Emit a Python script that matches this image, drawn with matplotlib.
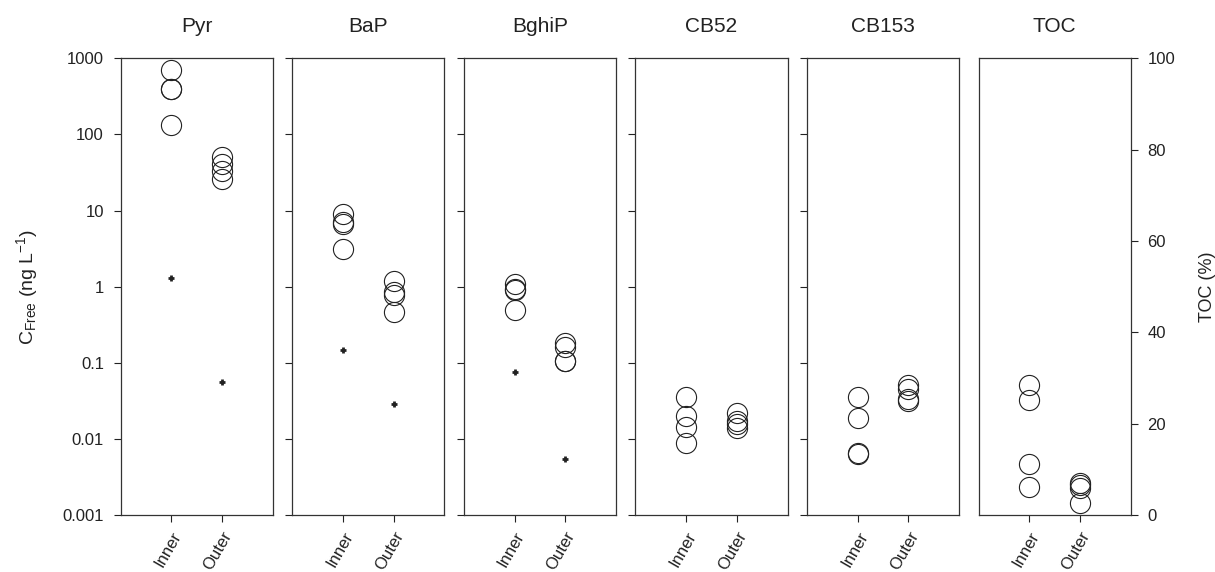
import numpy as np
import matplotlib
matplotlib.use("Agg")
import matplotlib.pyplot as plt
from matplotlib.ticker import NullLocator

plt.rcParams['font.family'] = ['Liberation Sans', 'DejaVu Sans']
plt.rcParams['mathtext.default'] = 'regular'

panels = ['Pyr', 'BaP', 'BghiP', 'CB52', 'CB153', 'TOC']
groups = ['Inner', 'Outer']

# circles: sediment / sampler values per group
inner = {
    'Pyr':   [700, 400, 390, 133],
    'BaP':   [9.0, 7.1, 6.6, 3.1],
    'BghiP': [1.1, 0.92, 0.90, 0.50],
    'CB52':  [0.035, 0.020, 0.0144, 0.0087],
    'CB153': [0.035, 0.0186, 0.0065, 0.0064],
    'TOC':   [28.5, 25.2, 11.2, 6.1],
}
outer = {
    'Pyr':   [50, 41, 33, 26],
    'BaP':   [1.2, 0.84, 0.78, 0.47],
    'BghiP': [0.18, 0.16, 0.107, 0.105],
    'CB52':  [0.0216, 0.0173, 0.0157, 0.0137],
    'CB153': [0.051, 0.045, 0.033, 0.0317],
    'TOC':   [7.0, 6.5, 6.0, 2.7],
}
# small crosses (inner, outer)
cross = {
    'Pyr':   [1.31, 0.056],
    'BaP':   [0.147, 0.029],
    'BghiP': [0.076, 0.0054],
}

log_ticks = [0.001, 0.01, 0.1, 1, 10, 100, 1000]
log_labels = ['0.001', '0.01', '0.1', '1', '10', '100', '1000']
toc_ticks = [0, 20, 40, 60, 80, 100]

ink = '#222222'
fig, axes = plt.subplots(1, 6, figsize=(12.15, 5.72), dpi=100)
fig.subplots_adjust(left=0.0993, right=0.9306, top=0.898, bottom=0.0997, wspace=0.128)

for i, (ax, name) in enumerate(zip(axes, panels)):
    for pos, vals in ((1, inner[name]), (2, outer[name])):
        ax.plot([pos] * len(vals), vals, 'o', ms=14.5, mfc='none', mec=ink, mew=0.8, ls='none')
    if name in cross:
        ax.plot([1, 2], cross[name], '+', ms=5, mew=2, color=ink, ls='none')

    ax.set_xlim(0, 3)
    ax.set_xticks([1, 2])
    ax.set_xticklabels(groups, rotation=60, ha='right', rotation_mode='anchor', fontsize=12, color=ink)
    ax.tick_params(axis='x', direction='out', length=5, width=0.8, colors=ink, pad=5)
    ax.set_title(name, fontsize=15, color=ink, pad=19)
    for s in ax.spines.values():
        s.set_linewidth(0.9)
        s.set_color('#333333')

    if name == 'TOC':
        ax.set_ylim(0, 100)
        ax.set_yticks(toc_ticks)
        ax.yaxis.tick_right()
        ax.yaxis.set_label_position('right')
        ax.tick_params(axis='y', direction='out', length=5, width=0.8, labelsize=12, colors=ink, pad=7)
        ax.set_ylabel('TOC (%)', fontsize=13, color=ink, labelpad=17)
    else:
        ax.set_yscale('log')
        ax.set_ylim(0.001, 1000)
        ax.set_yticks(log_ticks)
        ax.yaxis.set_minor_locator(NullLocator())
        ax.tick_params(axis='y', direction='out', length=5, width=0.8, labelsize=12, colors=ink, pad=7)
        if i == 0:
            ax.set_yticklabels(log_labels)
            ax.set_ylabel(r'C$_{Free}$ (ng L$^{-1}$)', fontsize=14, color=ink, labelpad=16)
        else:
            ax.set_yticklabels([])

fig.savefig('out.png', dpi=100)
